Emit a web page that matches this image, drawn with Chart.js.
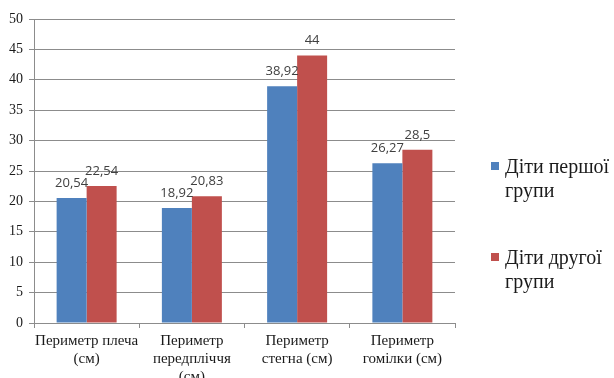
<!DOCTYPE html>
<html>
<head>
<meta charset="utf-8">
<script src="https://cdn.jsdelivr.net/npm/chart.js@4/dist/chart.umd.min.js"></script>
<style>
  html, body { margin: 0; padding: 0; background: #ffffff; }
  #wrap { width: 614px; height: 378px; position: relative; }
</style>
</head>
<body>
<div id="wrap"><canvas id="c" width="614" height="378"></canvas></div>
<script>
// Anthropometric perimeters, cm
const categories = [
  ['Периметр плеча', '(см)'],
  ['Периметр', 'передпліччя', '(см)'],
  ['Периметр', 'стегна (см)'],
  ['Периметр', 'гомілки (см)']
];
const groupOne = [20.54, 18.92, 38.92, 26.27];
const groupTwo = [22.54, 20.83, 44, 28.5];
const seriesNames = [['Діти першої', 'групи'], ['Діти другої', 'групи']];
const seriesColors = ['#4f81bd', '#c0504d'];
const yTicks = [0, 5, 10, 15, 20, 25, 30, 35, 40, 45, 50];

const gridColor = '#8c8c8c';
const serif = '"Liberation Serif", "DejaVu Serif", serif';

const fmt = v => String(v).replace('.', ',');

// value labels above each bar
const valueLabels = {
  id: 'valueLabels',
  afterDatasetsDraw(chart) {
    const ctx = chart.ctx;
    ctx.save();
    ctx.font = '13px "Open Sans", "Liberation Sans", sans-serif';
    ctx.fillStyle = '#404040';
    ctx.textAlign = 'center';
    ctx.textBaseline = 'alphabetic';
    chart.data.datasets.forEach((ds, i) => {
      chart.getDatasetMeta(i).data.forEach((bar, j) => {
        ctx.fillText(fmt(ds.data[j]), bar.x, bar.y - 11);
      });
    });
    ctx.restore();
  }
};

// legend on the right, two-line entries
const sideLegend = {
  id: 'sideLegend',
  afterDraw(chart) {
    const ctx = chart.ctx;
    ctx.save();
    ctx.font = '20px ' + serif;
    ctx.textAlign = 'left';
    ctx.textBaseline = 'alphabetic';
    const baselines = [173, 264];
    chart.data.datasets.forEach((ds, i) => {
      const b = baselines[i];
      ctx.fillStyle = ds.backgroundColor;
      ctx.fillRect(491, b - 11, 8, 8);
      ctx.fillStyle = '#1a1a1a';
      seriesNames[i].forEach((line, k) => {
        ctx.fillText(line, 505, b + k * 24);
      });
    });
    ctx.restore();
  }
};

new Chart(document.getElementById('c'), {
  type: 'bar',
  data: {
    labels: categories,
    datasets: [
      { label: seriesNames[0].join(' '), data: groupOne, backgroundColor: seriesColors[0],
        barPercentage: 1, categoryPercentage: 0.57 },
      { label: seriesNames[1].join(' '), data: groupTwo, backgroundColor: seriesColors[1],
        barPercentage: 1, categoryPercentage: 0.57 }
    ]
  },
  options: {
    responsive: false,
    animation: false,
    layout: { padding: { top: 19, right: 159, left: 0, bottom: 0 } },
    plugins: {
      legend: { display: false },
      tooltip: { enabled: false }
    },
    scales: {
      x: {
        grid: { display: true, offset: true, drawOnChartArea: false, drawTicks: true,
                tickLength: 5, color: gridColor },
        border: { display: true, color: gridColor, width: 1 },
        ticks: { font: { family: serif, size: 15, lineHeight: 1.2 }, color: '#1a1a1a',
                 padding: 4, maxRotation: 0, autoSkip: false },
        afterFit(scale) { scale.height = 55; }
      },
      y: {
        min: 0, max: 50,
        afterBuildTicks(scale) { scale.ticks = yTicks.map(v => ({ value: v })); },
        grid: { color: gridColor, tickLength: 5, lineWidth: 1 },
        border: { display: true, color: gridColor, width: 1 },
        ticks: { font: { family: serif, size: 14 }, color: '#1a1a1a', padding: 6 },
        afterFit(scale) { scale.width = 34; }
      }
    }
  },
  plugins: [valueLabels, sideLegend]
});
</script>
</body>
</html>
